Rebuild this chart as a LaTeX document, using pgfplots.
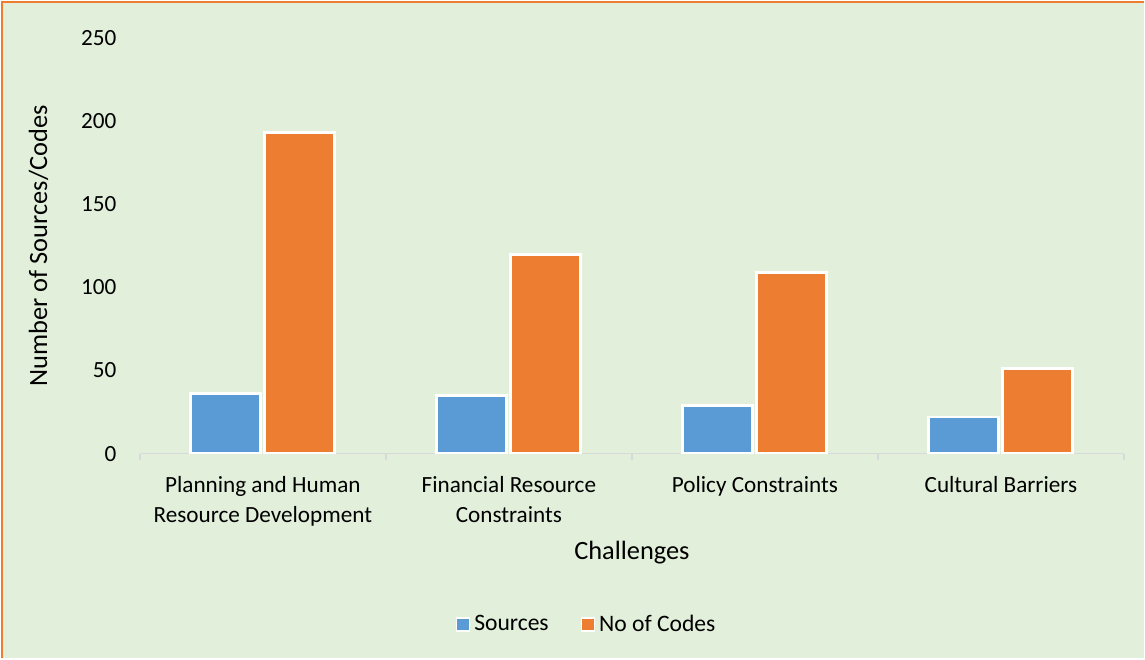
\documentclass[border=0pt]{standalone}
\usepackage{pgfplots}
\pgfplotsset{compat=1.18}
\usepackage{fontspec}
\setmainfont{Carlito}

\definecolor{xlblue}{HTML}{5B9BD5}
\definecolor{xlorange}{HTML}{ED7D31}
\definecolor{xlbg}{HTML}{E2EFDA}
\definecolor{xlgray}{HTML}{D9D9D9}

% 1 px of the reference = 0.5pt
\newlength{\px}
\setlength{\px}{0.5pt}

\begin{document}
\begin{tikzpicture}[x=\px,y=\px]
% page and chart area
\fill[white] (-140,-205) rectangle (1005,454);
\fill[xlbg] (-137,-205) rectangle (1005,451);
\draw[xlorange, line width=2.2\px] (-137.6,-205) -- (-137.6,451.6) -- (1005,451.6);

\begin{axis}[
  at={(0,0)}, anchor=south west,
  scale only axis,
  width=985\px, height=416\px,
  ybar, bar width=70\px,
  ymin=0, ymax=250,
  ytick={0,50,...,250},
  xmin=-0.5, xmax=3.5,
  xtick={0,1,2,3},
  xticklabels={Planning and Human\\Resource Development, Financial Resource\\Constraints, Policy Constraints, Cultural Barriers},
  minor xtick={-0.5,0.5,1.5,2.5,3.5},
  major x tick style={draw=none},
  minor x tick style={xlgray, line width=1.5\px},
  minor tick length=6\px,
  tick align=outside,
  axis x line*=bottom, axis y line*=left,
  x axis line style={xlgray, line width=1.5\px, -},
  y axis line style={draw=none},
  ytick style={draw=none},
  axis background/.style={fill=none},
  /pgf/number format/assume math mode=true,
  tick label style={font=\fontsize{11.6}{13.2}\selectfont, black},
  xticklabel style={align=center, yshift=-7\px, font=\fontsize{11.6}{15}\selectfont},
  yticklabel style={xshift=-8\px},
  xlabel={Challenges}, ylabel={Number of Sources/Codes},
  label style={font=\fontsize{13.2}{15}\selectfont},
  xlabel style={yshift=-2\px},
  ylabel style={yshift=19\px},
  legend columns=2,
  legend style={draw=none, fill=none, at={(0.455,-0.412)}, anchor=center,
    font=\fontsize{11.8}{13.5}\selectfont,
    /tikz/every even column/.append style={column sep=28\px}},
  legend image code/.code={\draw[#1, line width=1.5\px] (0,-6\px) rectangle (13\px,7\px);},
  every axis plot/.append style={draw=white, line width=3\px},
]
\addplot[fill=xlblue] coordinates {(0,36) (1,35) (2,29) (3,22)};
\addplot[fill=xlorange] coordinates {(0,193) (1,120) (2,109) (3,51)};
\legend{Sources, No of Codes}
\end{axis}
\end{tikzpicture}
\end{document}
